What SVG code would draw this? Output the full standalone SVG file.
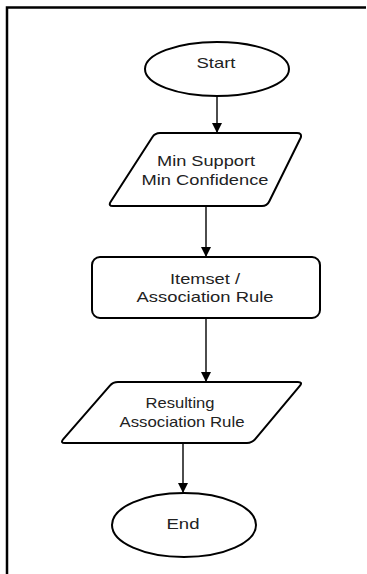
<svg xmlns="http://www.w3.org/2000/svg" width="367" height="574" viewBox="0 0 367 574">
<style>
.shape{fill:#fff;stroke:#000;stroke-width:2;stroke-linejoin:round}
.lbl{font-family:"Liberation Sans",Arial,sans-serif;font-size:15px;fill:#222;text-anchor:middle}
.conn{stroke:#000;stroke-width:1.4;fill:none}
</style>
<defs>
<marker id="arr" markerWidth="10" markerHeight="10" refX="9" refY="5" orient="auto" markerUnits="userSpaceOnUse">
<path d="M0,0 L10,5 L0,10 Z" fill="#000"/>
</marker>
</defs>
<rect width="367" height="574" fill="#fff"/>
<path d="M7,574 L7,7.5 L366,7.5" fill="none" stroke="#000" stroke-width="2.5"/>
<g id="connectors">
<line class="conn" x1="217" y1="96" x2="217" y2="132" marker-end="url(#arr)"/>
<line class="conn" x1="206" y1="206" x2="206" y2="256" marker-end="url(#arr)"/>
<line class="conn" x1="206" y1="318" x2="206" y2="381" marker-end="url(#arr)"/>
<line class="conn" x1="183" y1="443" x2="183" y2="492" marker-end="url(#arr)"/>
</g>
<g id="start">
<ellipse class="shape" cx="217" cy="69" rx="72" ry="27"/>
<text class="lbl" x="216" y="68" textLength="39" lengthAdjust="spacingAndGlyphs">Start</text>
</g>
<g id="input">
<path class="shape" d="M160,133 L297,133 Q302,133 300.8,137.5 L269.2,201.5 Q267,206 262,206 L113,206 Q108,206 110.7,201.8 L152.3,137.2 Q155,133 160,133 Z"/>
<text class="lbl" x="206" y="166" textLength="98" lengthAdjust="spacingAndGlyphs">Min Support</text>
<text class="lbl" x="205" y="185" textLength="127" lengthAdjust="spacingAndGlyphs">Min Confidence</text>
</g>
<g id="process">
<rect class="shape" x="92" y="257" width="228" height="61" rx="8"/>
<text class="lbl" x="205" y="284" textLength="70" lengthAdjust="spacingAndGlyphs">Itemset /</text>
<text class="lbl" x="205" y="302" textLength="137" lengthAdjust="spacingAndGlyphs">Association Rule</text>
</g>
<g id="output">
<path class="shape" d="M118,382 L298,382 Q303,382 299.8,385.8 L255.2,439.2 Q252,443 247,443 L65,443 Q60,443 63.3,439.2 L109.7,385.8 Q113,382 118,382 Z"/>
<text class="lbl" x="180" y="408" textLength="69" lengthAdjust="spacingAndGlyphs">Resulting</text>
<text class="lbl" x="182" y="427" textLength="125" lengthAdjust="spacingAndGlyphs">Association Rule</text>
</g>
<g id="end">
<ellipse class="shape" cx="184" cy="525" rx="72" ry="32"/>
<text class="lbl" x="183" y="529" textLength="33" lengthAdjust="spacingAndGlyphs">End</text>
</g>
</svg>
